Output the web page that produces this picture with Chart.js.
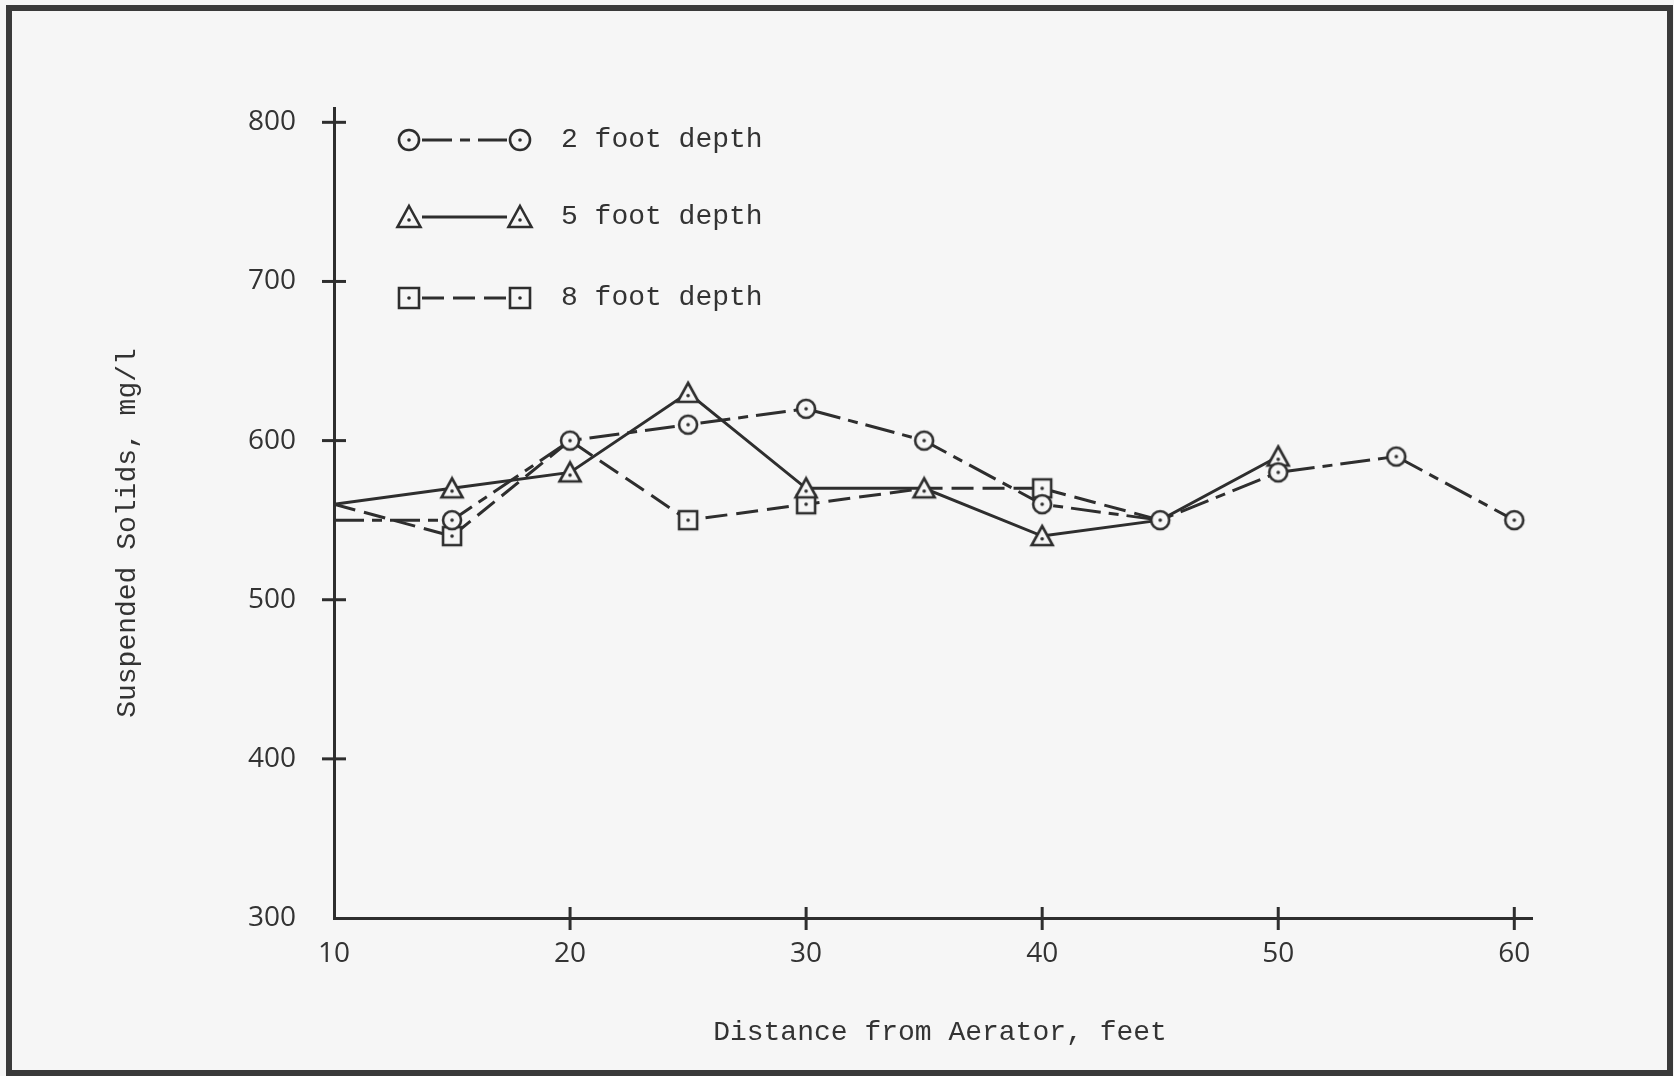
<!DOCTYPE html>
<html>
<head>
<meta charset="utf-8">
<script src="https://cdn.jsdelivr.net/npm/chart.js@4/dist/chart.umd.min.js"></script>
<style>
  html, body { margin: 0; padding: 0; background: #f6f6f6; }
  #wrap { position: relative; width: 1674px; height: 1076px; overflow: hidden; }
  #frame {
    position: absolute; left: 6px; top: 5px; width: 1667px; height: 1071px;
    box-sizing: border-box; border: 6px solid #3a3a3a; pointer-events: none;
  }
  canvas { position: absolute; left: 0; top: 0; }
</style>
</head>
<body>
<div id="wrap">
  <canvas id="chart" width="1674" height="1076"></canvas>
  <div id="frame"></div>
</div>
<script>
// Suspended solids vs distance from aerator, three sampling depths
const distances = [10, 15, 20, 25, 30, 35, 40, 45, 50, 55, 60];
const depth2 = [550, 550, 600, 610, 620, 600, 560, 550, 580, 590, 550];
const depth5 = [560, 570, 580, 630, 570, 570, 540, 550, 590];
const depth8 = [560, 540, 600, 550, 560, 570, 570, 550];
// points where the original drawing shows no marker (lines just meet there)
const hidden2 = [10];
const hidden5 = [10, 45];
const hidden8 = [10, 20, 35, 45];

const xTicks = [10, 20, 30, 40, 50, 60];
const yTicks = [300, 400, 500, 600, 700, 800];

const INK = "#2e2e2e";
const PAPER = "#f6f6f6";

function makeMarker(kind, r) {
  const size = Math.ceil(r * 2 + 8);
  const m = size / 2;
  const c = document.createElement("canvas");
  c.width = size; c.height = size;
  const g = c.getContext("2d");
  g.strokeStyle = INK;
  g.fillStyle = PAPER;
  g.lineWidth = 2.6;
  g.beginPath();
  if (kind === "circle") {
    g.arc(m, m, r, 0, Math.PI * 2);
  } else if (kind === "triangle") {
    g.moveTo(m, m - r - 1); g.lineTo(m + r + 1.5, m + r); g.lineTo(m - r - 1.5, m + r); g.closePath();
  } else {
    g.rect(m - r, m - r, r * 2, r * 2);
  }
  g.fill(); g.stroke();
  g.fillStyle = INK;
  g.beginPath();
  g.arc(m, kind === "triangle" ? m + r * 0.3 : m, 1.8, 0, Math.PI * 2);
  g.fill();
  return c;
}

const shapes = ["circle", "triangle", "square"];
const markers = {};
const legendMarkers = {};
shapes.forEach((k) => {
  markers[k] = makeMarker(k, 9);
  legendMarkers[k] = makeMarker(k, 10);
});

function points(values) {
  return values.map((v, i) => ({ x: distances[i], y: v }));
}
function radii(values, hidden) {
  return values.map((v, i) => (hidden.includes(distances[i]) ? 0 : 9));
}

const series = [
  { label: "2 foot depth", data: depth2, hidden: hidden2, marker: "circle", dash: [30, 8, 10, 8] },
  { label: "5 foot depth", data: depth5, hidden: hidden5, marker: "triangle", dash: [] },
  { label: "8 foot depth", data: depth8, hidden: hidden8, marker: "square", dash: [22, 9] },
];

const monoFont = "'Liberation Mono', 'DejaVu Sans Mono', monospace";

// crossing tick marks, axis titles and the hand-drawn style legend
const paperPlugin = {
  id: "paper",
  afterDraw(chart) {
    const { ctx, chartArea, scales } = chart;
    const { x, y } = scales;
    ctx.save();
    ctx.strokeStyle = INK;
    ctx.lineWidth = 3;
    xTicks.slice(1).forEach((t) => {
      const px = x.getPixelForValue(t);
      ctx.beginPath();
      ctx.moveTo(px, chartArea.bottom - 11);
      ctx.lineTo(px, chartArea.bottom + 12);
      ctx.stroke();
    });
    yTicks.slice(1).forEach((t) => {
      const py = y.getPixelForValue(t);
      ctx.beginPath();
      ctx.moveTo(chartArea.left - 12, py);
      ctx.lineTo(chartArea.left + 12, py);
      ctx.stroke();
    });

    ctx.fillStyle = "#333";
    ctx.font = "28px " + monoFont;
    ctx.textAlign = "center";
    ctx.textBaseline = "middle";
    ctx.fillText("Distance from Aerator, feet", 940, 1033);
    ctx.save();
    ctx.translate(128, 533);
    ctx.rotate(-Math.PI / 2);
    ctx.fillText("Suspended Solids, mg/l", 0, 0);
    ctx.restore();

    const rows = [140, 217, 298];
    series.forEach((s, i) => {
      const ry = rows[i];
      ctx.setLineDash(s.dash);
      ctx.lineWidth = 3;
      ctx.beginPath();
      ctx.moveTo(422, ry);
      ctx.lineTo(507, ry);
      ctx.stroke();
      ctx.setLineDash([]);
      const m = legendMarkers[s.marker];
      ctx.drawImage(m, 409 - m.width / 2, ry - m.height / 2);
      ctx.drawImage(m, 520 - m.width / 2, ry - m.height / 2);
      ctx.textAlign = "left";
      ctx.fillText(s.label, 561, ry);
    });
    ctx.restore();
  },
};

new Chart(document.getElementById("chart"), {
  type: "line",
  data: {
    datasets: series.map((s) => ({
      label: s.label,
      data: points(s.data),
      borderColor: INK,
      borderWidth: 3,
      borderDash: s.dash,
      pointStyle: markers[s.marker],
      pointRadius: radii(s.data, s.hidden),
      pointHoverRadius: 0,
      tension: 0,
      fill: false,
    })),
  },
  options: {
    responsive: false,
    animation: false,
    events: [],
    layout: { padding: { top: 108, right: 142, left: 0, bottom: 0 } },
    plugins: { legend: { display: false }, tooltip: { enabled: false } },
    scales: {
      x: {
        type: "linear",
        min: 10,
        max: 60.75,
        grid: { display: false, drawTicks: false },
        border: { display: true, color: INK, width: 3 },
        afterFit: (s) => { s.height = 158; },
        afterBuildTicks: (s) => { s.ticks = xTicks.map((v) => ({ value: v })); },
        ticks: { color: "#333", padding: 19, font: { family: "'Open Sans'", size: 28 } },
      },
      y: {
        min: 300,
        max: 809,
        grid: { display: false, drawTicks: false },
        border: { display: true, color: INK, width: 3 },
        afterFit: (s) => { s.width = 334; },
        afterBuildTicks: (s) => { s.ticks = yTicks.map((v) => ({ value: v })); },
        ticks: { color: "#333", padding: 38, font: { family: "'Open Sans'", size: 28 } },
      },
    },
  },
  plugins: [paperPlugin],
});
</script>
</body>
</html>
